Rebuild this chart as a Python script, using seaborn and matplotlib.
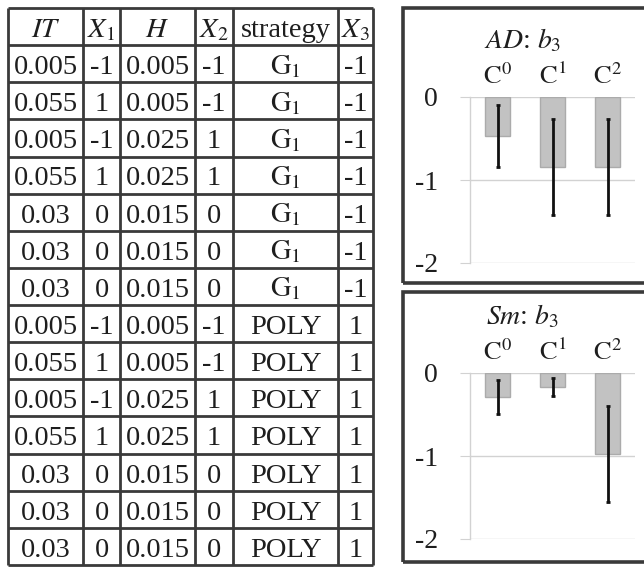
import numpy as np
import matplotlib
matplotlib.use("Agg")
import matplotlib.pyplot as plt
from matplotlib.patches import Rectangle
import seaborn as sns

# design table (left)
headers = ["$IT$", "$X_1$", "$H$", "$X_2$", "strategy", "$X_3$"]
it_vals = ["0.005", "0.055", "0.005", "0.055", "0.03", "0.03", "0.03",
           "0.005", "0.055", "0.005", "0.055", "0.03", "0.03", "0.03"]
x1_vals = ["-1", "1", "-1", "1", "0", "0", "0",
           "-1", "1", "-1", "1", "0", "0", "0"]
h_vals = ["0.005", "0.005", "0.025", "0.025", "0.015", "0.015", "0.015",
          "0.005", "0.005", "0.025", "0.025", "0.015", "0.015", "0.015"]
x2_vals = ["-1", "-1", "1", "1", "0", "0", "0",
           "-1", "-1", "1", "1", "0", "0", "0"]
strategy_vals = ["$\\mathrm{G}_1$"] * 7 + ["POLY"] * 7
x3_vals = ["-1"] * 7 + ["1"] * 7
col_widths = [75, 37, 75, 38, 105, 35]

# b3 coefficients (right)
conds = ["$\\mathrm{C}^0$", "$\\mathrm{C}^1$", "$\\mathrm{C}^2$"]
ad_means = [-0.47, -0.84, -0.84]
ad_errs = [0.37, 0.58, 0.58]
sm_means = [-0.29, -0.17, -0.98]
sm_errs = [0.20, 0.11, 0.58]

sns.set_theme(style="white")
plt.rcParams["font.family"] = ["Liberation Serif", "DejaVu Serif"]
plt.rcParams["mathtext.fontset"] = "stix"

W, H = 644, 567
fig = plt.figure(figsize=(W / 100, H / 100), dpi=100)

# ---- table
ax_t = fig.add_axes([8 / W, 1 - 565 / H, 365 / W, 557 / H])
total_w = sum(col_widths)
ax_t.set_xlim(0, total_w)
ax_t.set_ylim(15, 0)
ax_t.axis("off")
edges = np.concatenate([[0], np.cumsum(col_widths)])
centers = (edges[:-1] + edges[1:]) / 2
ax_t.hlines(np.arange(16), 0, total_w, color="#3a3a3a", lw=2, clip_on=False)
ax_t.vlines(edges, 0, 15, color="#3a3a3a", lw=2, clip_on=False)

rows = [headers] + [list(r) for r in zip(it_vals, x1_vals, h_vals, x2_vals, strategy_vals, x3_vals)]
for i, row in enumerate(rows):
    for j, txt in enumerate(row):
        ax_t.text(centers[j], i + 0.78, txt, ha="center", va="baseline",
                  fontsize=20.5, color="#1e1e1e")


# ---- bar panels
def draw_panel(rect, means, errs, title, box):
    fig.patches.append(Rectangle((box[0] / W, 1 - box[2] / H), 0.5, (box[2] - box[1]) / H,
                                 transform=fig.transFigure, fill=False,
                                 lw=2.6, ec="#3a3a3a", clip_on=False))
    ax = fig.add_axes(rect)
    sns.barplot(x=conds, y=means, color="#c2c2c2", width=0.44, ax=ax,
                errorbar=None, edgecolor="#ababab", linewidth=1, saturation=1)
    ax.errorbar(np.arange(len(conds)), means, yerr=errs, fmt="none",
                ecolor="#111111", elinewidth=2, capsize=1.5, capthick=2)
    ax.set_xlim(-0.5, 2.5)
    ax.set_ylim(-2, 0)
    ax.set_yticks([0, -1, -2])
    ax.set_yticklabels(["0", "-1", "-2"])
    ax.yaxis.grid(True, color="#d2d2d2", lw=1)
    ax.set_axisbelow(True)
    ax.xaxis.tick_top()
    ax.set_xlabel("")
    ax.set_ylabel("")
    ax.tick_params(axis="x", length=0, pad=6, labelsize=19, colors="#1e1e1e")
    ax.tick_params(axis="y", left=True, length=7.2, width=0.8, color="#d2d2d2",
                   pad=15.8, labelsize=20, labelcolor="#1e1e1e")
    for side in ["top", "right", "bottom"]:
        ax.spines[side].set_visible(False)
    ax.spines["left"].set_color("#d2d2d2")
    ax.spines["left"].set_linewidth(1)
    ax.text(0.32, 1.34, title, transform=ax.transAxes,
            ha="center", va="center", fontsize=20, color="#1e1e1e")
    return ax


ax_w = 165 / W
ax_h = 166 / H
draw_panel([470 / W, 1 - 263 / H, ax_w, ax_h], ad_means, ad_errs,
           "$AD$: $b_3$", (403, 8, 283))
draw_panel([470 / W, 1 - 539 / H, ax_w, ax_h], sm_means, sm_errs,
           "$Sm$: $b_3$", (403, 292, 562))

fig.savefig("out.png", dpi=100)
